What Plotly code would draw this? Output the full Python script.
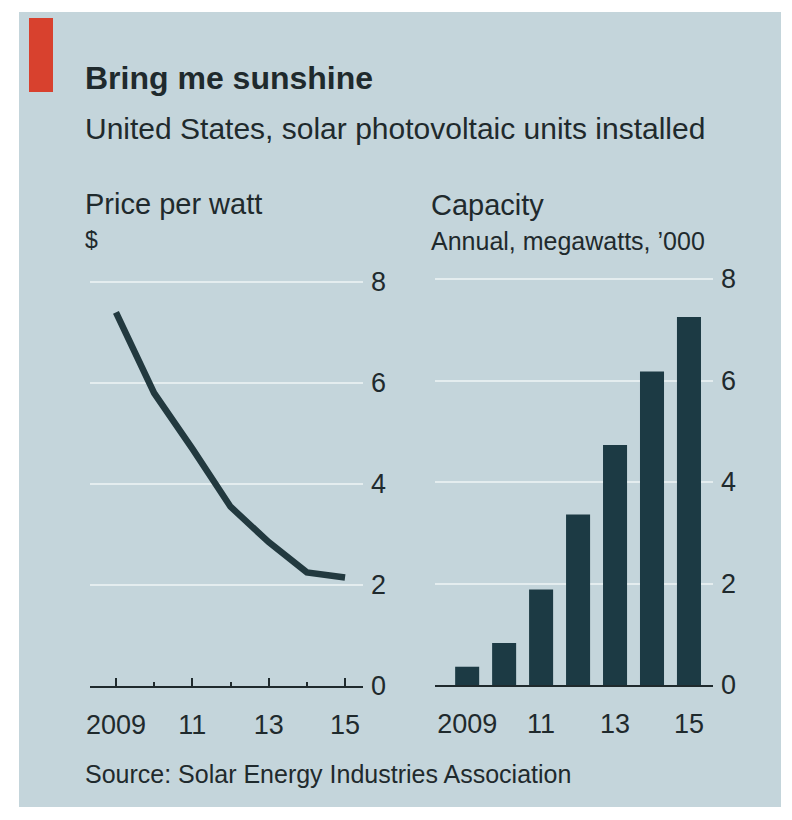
import plotly.graph_objects as go

# ---- data ----
years = [2009, 2010, 2011, 2012, 2013, 2014, 2015]
price_per_watt = [7.4, 5.8, 4.7, 3.55, 2.85, 2.25, 2.15]          # $ per watt
capacity_gw = [0.36, 0.83, 1.88, 3.36, 4.73, 6.18, 7.25]          # annual MW, '000
y_ticks = [0, 2, 4, 6, 8]
x_tickvals = [2009, 2011, 2013, 2015]
x_ticktext = ["2009", "11", "13", "15"]

# ---- styling ----
W, H = 792, 820
FONT = "Liberation Sans, Arial, sans-serif"
PANEL = "#c4d5db"
GRID = "#e4edef"
INK = "#1f2a2d"
LINE_COL = "#22393f"
BAR_COL = "#1c3a44"
RED = "#d8412e"


def px(x):
    return x / W


def py(y):
    return 1 - y / H


fig = go.Figure()

fig.add_trace(go.Scatter(
    x=years, y=price_per_watt, mode="lines",
    line=dict(color=LINE_COL, width=6.5),
    xaxis="x", yaxis="y", hoverinfo="skip", cliponaxis=False,
))

fig.add_trace(go.Bar(
    x=years, y=capacity_gw, width=0.65,
    marker=dict(color=BAR_COL, line=dict(width=0)),
    xaxis="x2", yaxis="y2", hoverinfo="skip",
))

tickfont = dict(family=FONT, size=27, color=INK)

yaxis_common = dict(
    range=[0, 8.06], tickvals=y_ticks, ticktext=[str(v) for v in y_ticks],
    side="right", showgrid=True, gridcolor=GRID, gridwidth=2,
    zeroline=False, showline=False, ticks="", tickfont=tickfont,
    ticklabelstandoff=7, fixedrange=True, automargin=False,
)

fig.update_layout(
    width=W, height=H,
    margin=dict(l=0, r=0, t=0, b=0, pad=0, autoexpand=False),
    paper_bgcolor="white",
    plot_bgcolor="rgba(0,0,0,0)",
    showlegend=False,
    xaxis=dict(
        domain=[px(90), px(363)], range=[2008.32, 2015.47], anchor="y",
        tickvals=x_tickvals, ticktext=x_ticktext, tickfont=tickfont,
        showgrid=False, zeroline=False, automargin=False,
        showline=True, linecolor=INK, linewidth=2,
        ticks="inside", ticklen=8, tickwidth=1.5, tickcolor=INK,
        minor=dict(tickvals=[2010, 2012, 2014], ticks="inside", ticklen=4,
                   tickwidth=1.5, tickcolor=INK),
        ticklabelstandoff=14,
    ),
    yaxis=dict(domain=[py(686), py(279)], anchor="x", **yaxis_common),
    xaxis2=dict(
        domain=[px(435), px(713)], range=[2008.13, 2015.65], anchor="y2",
        tickvals=x_tickvals, ticktext=x_ticktext, tickfont=tickfont,
        showgrid=False, zeroline=False, automargin=False,
        showline=True, linecolor=INK, linewidth=2, ticks="",
        ticklabelstandoff=14,
    ),
    yaxis2=dict(domain=[py(685), py(276)], anchor="x2", **yaxis_common),
)

# background panel and red tag
fig.add_shape(type="rect", xref="paper", yref="paper",
              x0=px(19), x1=px(781), y0=py(807), y1=py(12),
              fillcolor=PANEL, line=dict(width=0), layer="below")
fig.add_shape(type="rect", xref="paper", yref="paper",
              x0=px(29), x1=px(53), y0=py(92), y1=py(18),
              fillcolor=RED, line=dict(width=0), layer="below")


def label(text, x, y, size, bold=False):
    fig.add_annotation(
        text=f"<b>{text}</b>" if bold else text,
        x=px(x), y=py(y), xref="paper", yref="paper",
        xanchor="left", yanchor="middle", showarrow=False,
        font=dict(family=FONT, size=size, color=INK),
    )


label("Bring me sunshine", 83, 78, 32, bold=True)
label("United States, solar photovoltaic units installed", 83, 128, 30)
label("Price per watt", 83, 204, 29)
label("$", 83, 240, 23)
label("Capacity", 429, 205, 29)
label("Annual, megawatts, \u2019000", 429, 241, 25)
label("Source: Solar Energy Industries Association", 83, 774, 25)

fig.write_html("out.html")
